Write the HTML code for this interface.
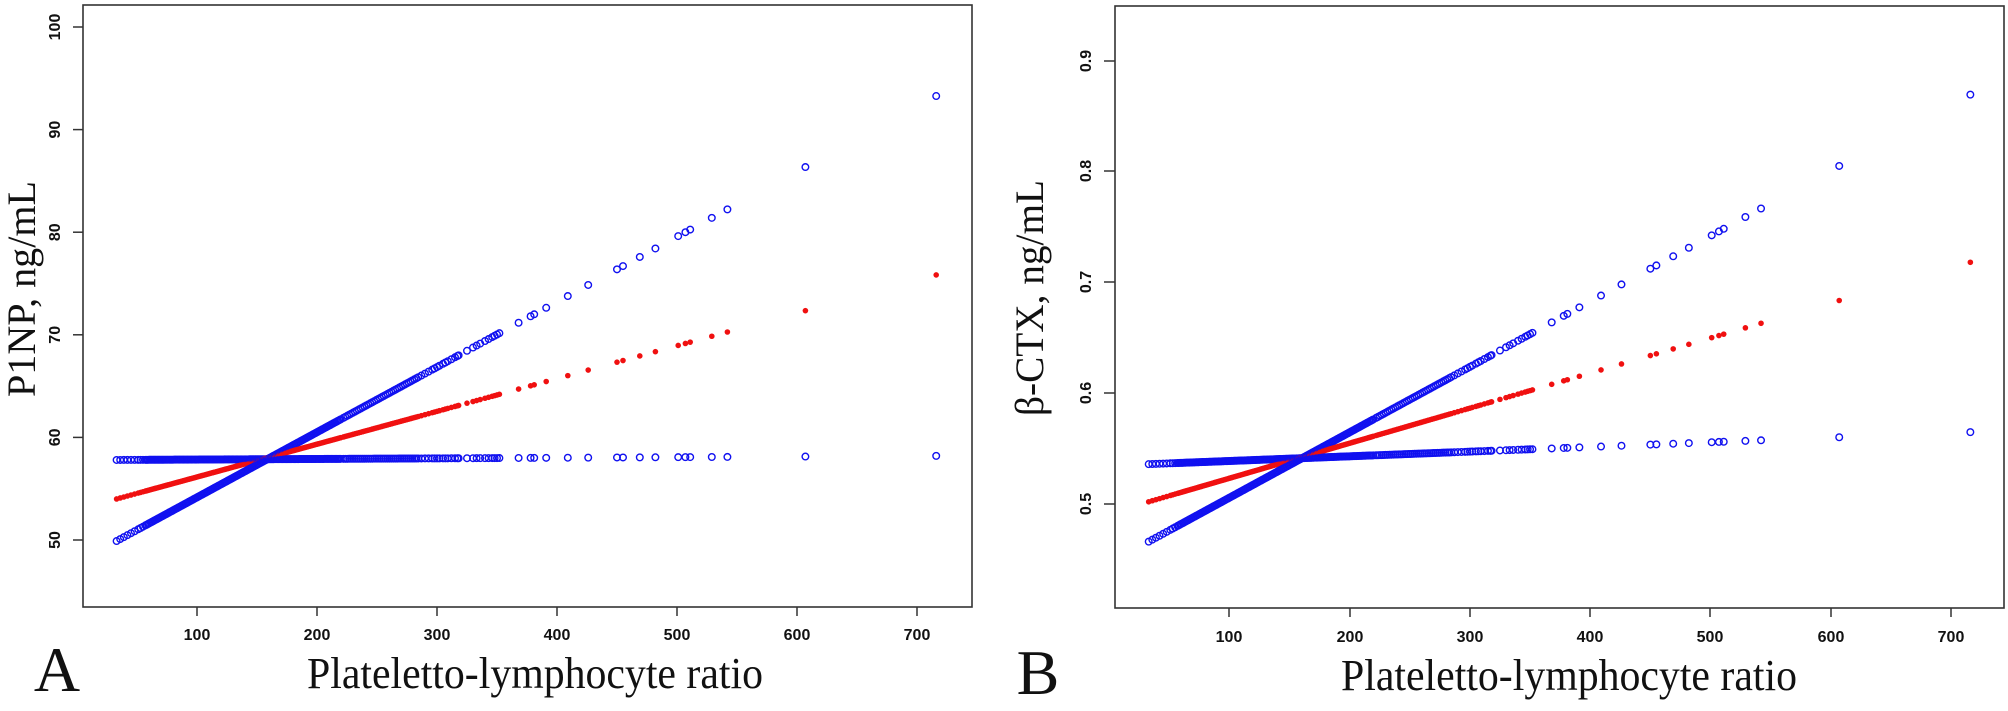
<!DOCTYPE html>
<html><head><meta charset="utf-8"><style>
html,body{margin:0;padding:0;background:#fff;}
svg{display:block;}
.tk{font-family:"Liberation Sans",Arial,sans-serif;font-weight:bold;font-size:16px;fill:#111;}
.tt{font-family:"Liberation Serif","Times New Roman",serif;fill:#111;}
</style></head><body>
<svg id="s" width="2008" height="711" viewBox="0 0 2008 711" xmlns="http://www.w3.org/2000/svg">
<rect width="2008" height="711" fill="#fff"/>
<!-- Panel A -->
<rect x="83" y="5" width="889" height="602" fill="none" stroke="#333" stroke-width="1.6"/>
<g stroke="#333" stroke-width="1.5">
<line x1="197" y1="607" x2="197" y2="616"/><line x1="317" y1="607" x2="317" y2="616"/><line x1="437" y1="607" x2="437" y2="616"/><line x1="557" y1="607" x2="557" y2="616"/><line x1="677" y1="607" x2="677" y2="616"/><line x1="797" y1="607" x2="797" y2="616"/><line x1="917" y1="607" x2="917" y2="616"/>
<line x1="73" y1="27" x2="83" y2="27"/><line x1="73" y1="129.6" x2="83" y2="129.6"/><line x1="73" y1="232.2" x2="83" y2="232.2"/><line x1="73" y1="334.8" x2="83" y2="334.8"/><line x1="73" y1="437.4" x2="83" y2="437.4"/><line x1="73" y1="540" x2="83" y2="540"/>
</g>
<g class="tk" text-anchor="middle">
<text x="197" y="640">100</text><text x="317" y="640">200</text><text x="437" y="640">300</text><text x="557" y="640">400</text><text x="677" y="640">500</text><text x="797" y="640">600</text><text x="917" y="640">700</text>
<text transform="translate(60,27) rotate(-90)">100</text><text transform="translate(60,129.6) rotate(-90)">90</text><text transform="translate(60,232.2) rotate(-90)">80</text><text transform="translate(60,334.8) rotate(-90)">70</text><text transform="translate(60,437.4) rotate(-90)">60</text><text transform="translate(60,540) rotate(-90)">50</text>
</g>
<text class="tt" x="57" y="691" font-size="64" text-anchor="middle">A</text>
<text class="tt" x="307" y="688" font-size="44" textLength="456" lengthAdjust="spacingAndGlyphs">Plateletto-lymphocyte ratio</text>
<text class="tt" transform="translate(35,289) rotate(-90)" font-size="40" text-anchor="middle" textLength="216" lengthAdjust="spacingAndGlyphs">P1NP, ng/mL</text>

<!-- Panel B -->
<rect x="1115" y="6" width="889" height="602" fill="none" stroke="#333" stroke-width="1.6"/>
<g stroke="#333" stroke-width="1.5">
<line x1="1229" y1="608" x2="1229" y2="617"/><line x1="1350" y1="608" x2="1350" y2="617"/><line x1="1470" y1="608" x2="1470" y2="617"/><line x1="1590" y1="608" x2="1590" y2="617"/><line x1="1710" y1="608" x2="1710" y2="617"/><line x1="1831" y1="608" x2="1831" y2="617"/><line x1="1951" y1="608" x2="1951" y2="617"/>
<line x1="1104" y1="61" x2="1115" y2="61"/><line x1="1104" y1="171" x2="1115" y2="171"/><line x1="1104" y1="282" x2="1115" y2="282"/><line x1="1104" y1="393" x2="1115" y2="393"/><line x1="1104" y1="504" x2="1115" y2="504"/>
</g>
<g class="tk" text-anchor="middle">
<text x="1229" y="642">100</text><text x="1350" y="642">200</text><text x="1470" y="642">300</text><text x="1590" y="642">400</text><text x="1710" y="642">500</text><text x="1831" y="642">600</text><text x="1951" y="642">700</text>
<text transform="translate(1091,61) rotate(-90)">0.9</text><text transform="translate(1091,171) rotate(-90)">0.8</text><text transform="translate(1091,282) rotate(-90)">0.7</text><text transform="translate(1091,393) rotate(-90)">0.6</text><text transform="translate(1091,504) rotate(-90)">0.5</text>
</g>
<text class="tt" x="1038" y="694" font-size="64" text-anchor="middle">B</text>
<text class="tt" x="1341" y="690" font-size="44" textLength="456" lengthAdjust="spacingAndGlyphs">Plateletto-lymphocyte ratio</text>
<text class="tt" transform="translate(1043,298) rotate(-90)" font-size="40" text-anchor="middle" textLength="236" lengthAdjust="spacingAndGlyphs">β-CTX, ng/mL</text>
<g id="pts"></g>
</svg>
<script>
(function(){
var xs=[33,36,39,42,45,48,51,53,55,57];
for(var v=58;v<=220;v+=1.1)xs.push(v);
for(var v=222;v<=285;v+=1.6)xs.push(v);
xs=xs.concat([287,290,293,296,298,300,302,305,307,309,312,315,317,318,325,330,333,336,340,343,346,348,350,352,368,378,381,391,409,426,450,455,469,482,501,507,511,529,542,607,716]);
var g=document.getElementById('pts'),h='';
function lin(a,b,v){return a+(b-a)*(v-33)/685;}
xs.forEach(function(v){
  var ax=77+1.2*v;
  var ay=function(p){return 540-(p-50)*10.26;};
  var bx=1109+1.203*v;
  var by=function(p){return 504-(p-0.5)*1107;};
  h+='<circle cx="'+ax+'" cy="'+ay(lin(57.8,58.2,v))+'" r="3.3" fill="none" stroke="#1010f0" stroke-width="1.4"/>';
  h+='<circle cx="'+ax+'" cy="'+ay(lin(49.9,93.4,v))+'" r="3.3" fill="none" stroke="#1010f0" stroke-width="1.4"/>';
  h+='<circle cx="'+ax+'" cy="'+ay(lin(54,75.9,v))+'" r="2.8" fill="#f01010"/>';
  h+='<circle cx="'+bx+'" cy="'+by(lin(0.536,0.565,v))+'" r="3.3" fill="none" stroke="#1010f0" stroke-width="1.4"/>';
  h+='<circle cx="'+bx+'" cy="'+by(lin(0.466,0.871,v))+'" r="3.3" fill="none" stroke="#1010f0" stroke-width="1.4"/>';
  h+='<circle cx="'+bx+'" cy="'+by(lin(0.502,0.719,v))+'" r="2.8" fill="#f01010"/>';
});
g.innerHTML=h;
})();
</script>
</body></html>
